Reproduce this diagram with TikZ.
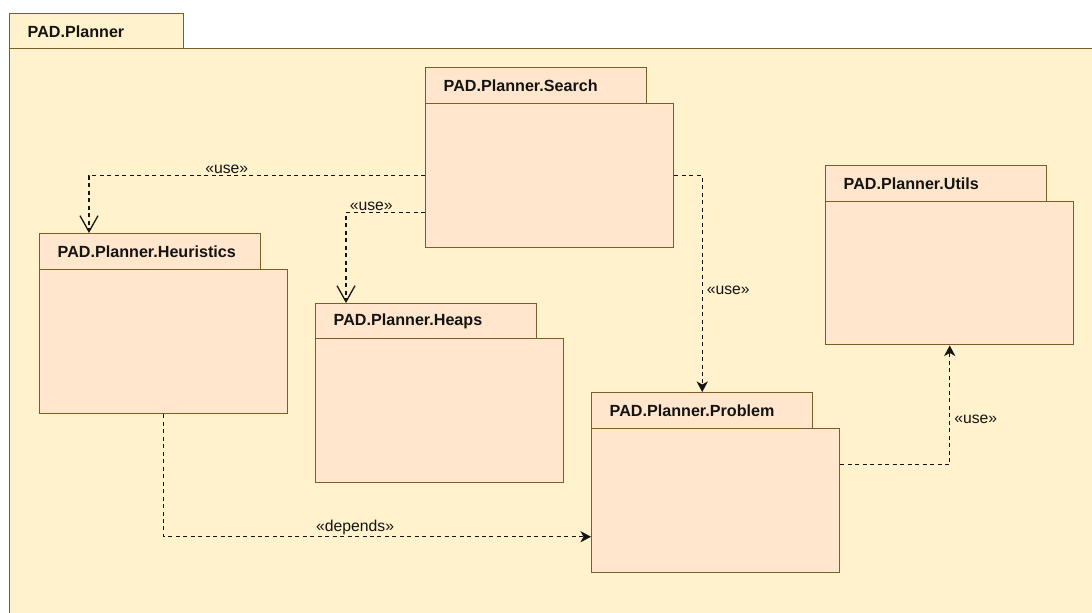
\documentclass[tikz,border=0pt]{standalone}
\usepackage{fontspec}
\setmainfont{Liberation Sans}
\usetikzlibrary{arrows.meta}
\definecolor{outerfill}{HTML}{FFF2CC}
\definecolor{pkgfill}{HTML}{FFE6CC}
\definecolor{pkgline}{HTML}{7A5E22}
\definecolor{inkdark}{HTML}{141414}
\tikzset{
  pkgtab/.style={draw=pkgline, fill=pkgfill, line width=1.1pt, rectangle, anchor=north west,
    inner xsep=13.5pt, inner ysep=0pt, text width=138.75pt, minimum height=27pt,
    align=left, font=\bfseries\fontsize{12.1}{14}\selectfont, text=inkdark},
  pkgbody/.style={draw=pkgline, fill=pkgfill, line width=1.1pt, rectangle, anchor=north west,
    inner sep=0pt, minimum width=186pt, minimum height=108pt},
  deplink/.style={draw=inkdark, line width=0.95pt, dash pattern=on 3pt off 2.6pt},
  opentip/.style={-{Straight Barb[length=12pt,width=13.5pt,line width=0.95pt]}},
  filledtip/.style={-{Stealth[length=8pt,width=8.5pt,inset=2.4pt]}},
  deplabel/.style={font=\fontsize{11.8}{14}\selectfont, text=inkdark, inner sep=1pt}
}
\begin{document}
\begin{tikzpicture}[x=0.75pt,y=-0.75pt]
\path[use as bounding box, clip] (0,0) rectangle (1092,612);

% enclosing package
\node[pkgtab, fill=outerfill, text width=103.5pt, minimum height=26.25pt] (plannerTab) at (9,13) {PAD.Planner};
\node[draw=pkgline, fill=outerfill, line width=1.1pt, rectangle, anchor=north west, inner sep=0pt,
      minimum width=850pt, minimum height=460pt] (planner) at (9,48) {};

% nested packages
\node[pkgtab] (searchTab) at (425,67) {PAD.Planner.Search};
\node[pkgbody] (search) at (425,103) {};

\node[pkgtab] (heurTab) at (39,233) {PAD.Planner.Heuristics};
\node[pkgbody] (heur) at (39,269) {};

\node[pkgtab, minimum height=26.25pt] (heapsTab) at (315,303) {PAD.Planner.Heaps};
\node[pkgbody] (heaps) at (315,338) {};

\node[pkgtab] (probTab) at (591,392) {PAD.Planner.Problem};
\node[pkgbody] (prob) at (591,428) {};

\node[pkgtab] (utilsTab) at (825,165) {PAD.Planner.Utils};
\node[pkgbody, minimum height=107.25pt] (utils) at (825,201) {};

% dependencies
\draw[deplink, opentip] (search.west) -| ([xshift=37.5pt]heurTab.north west)
  node[deplabel, pos=0.295, above] (useHeur) {«use»};
\draw[deplink, opentip] ([yshift=-27.75pt]search.west) -| ([xshift=23.25pt]heapsTab.north west)
  node[deplabel, pos=0.34, above] (useHeaps) {«use»};
\draw[deplink, filledtip] (search.east) -| (probTab.north)
  node[deplabel, pos=0.764, right=2pt] (useProb) {«use»};
\draw[deplink, filledtip] ([yshift=27pt]prob.east) -| (utils.south)
  node[deplabel, pos=0.69, right=2pt] (useUtils) {«use»};
\draw[deplink, filledtip] (heur.south) |- ([yshift=-27pt]prob.west)
  node[deplabel, pos=0.724, above] (dependsProb) {«depends»};
\end{tikzpicture}
\end{document}
